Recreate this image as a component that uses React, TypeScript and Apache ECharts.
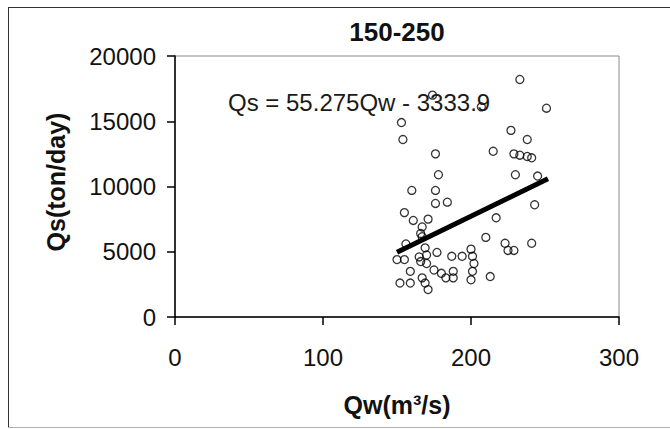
import React, { useEffect, useRef } from "react";
import * as echarts from "echarts";

// Scatter observations: discharge Qw (m3/s) and sediment load Qs (ton/day)
const qw: number[] = [
  174, 233, 251, 207, 153, 154, 227, 238, 176, 215,
  229, 233, 238, 241, 178, 230, 245, 160, 176, 176,
  184, 243, 155, 161, 171, 167, 217, 166, 210, 167,
  223, 225, 229, 241, 156, 150, 155, 169, 170, 166,
  170, 177, 165, 187, 194, 200, 201, 202, 201, 200,
  159, 175, 180, 183, 188, 188, 213, 152, 159, 167,
  169, 171,
];
const qs: number[] = [
  17000, 18200, 16000, 16100, 14900, 13600, 14300, 13600, 12500, 12700,
  12500, 12400, 12300, 12200, 10900, 10900, 10800, 9700, 9700, 8700,
  8800, 8600, 8000, 7400, 7500, 6900, 7600, 6400, 6100, 6150,
  5650, 5100, 5100, 5650, 5600, 4400, 4400, 5300, 4750, 4250,
  4100, 4950, 4600, 4650, 4650, 5200, 4650, 4100, 3500, 2850,
  3500, 3600, 3350, 3000, 3500, 3000, 3100, 2600, 2600, 3000,
  2600, 2100,
];

// Linear trend line
const slope = 55.275;
const intercept = -3333.9;
const trendRange: number[] = [150, 252];

const xTicks: number[] = [0, 100, 200, 300];
const yTicks: number[] = [0, 5000, 10000, 15000, 20000];

const titleText = "150-250";
const equationText = "Qs = 55.275Qw - 3333.9";
const xName = "Qw(m³/s)";
const yName = "Qs(ton/day)";

export default function App() {
  const ref = useRef<HTMLDivElement>(null);
  useEffect(() => {
    if (!ref.current) return;
    const chart = echarts.init(ref.current, undefined, { renderer: "svg" });
    const font = "'Liberation Sans', Arial, sans-serif";
    const scatterData = qw.map((x, i) => [x, qs[i]]);
    const trendData = trendRange.map((x) => [x, slope * x + intercept]);
    chart.setOption({
      animation: false,
      backgroundColor: "#ffffff",
      grid: {
        left: 175,
        top: 56,
        right: 51,
        bottom: 112,
        show: true,
        borderColor: "#8a8a8a",
        borderWidth: 1,
        backgroundColor: "transparent",
      },
      xAxis: {
        type: "value",
        min: xTicks[0],
        max: xTicks[xTicks.length - 1],
        interval: 100,
        axisLine: { show: true, onZero: false, lineStyle: { color: "#000", width: 1.5 } },
        axisTick: { show: true, inside: false, length: 8, lineStyle: { color: "#000", width: 1.5 } },
        splitLine: { show: false },
        axisLabel: { fontFamily: font, fontSize: 24, color: "#111", margin: 28, formatter: (v: number) => String(v) },
      },
      yAxis: {
        type: "value",
        min: yTicks[0],
        max: yTicks[yTicks.length - 1],
        interval: 5000,
        axisLine: { show: true, onZero: false, lineStyle: { color: "#000", width: 1.5 } },
        axisTick: { show: true, inside: false, length: 8, lineStyle: { color: "#000", width: 1.5 } },
        splitLine: { show: false },
        axisLabel: { fontFamily: font, fontSize: 24, color: "#111", margin: 19, formatter: (v: number) => String(v) },
      },
      series: [
        {
          type: "scatter",
          data: scatterData,
          symbol: "circle",
          symbolSize: 8,
          itemStyle: { color: "rgba(255,255,255,0)", borderColor: "#000", borderWidth: 1.3 },
          z: 2,
        },
        {
          type: "line",
          data: trendData,
          showSymbol: false,
          symbol: "none",
          lineStyle: { color: "#000", width: 5 },
          z: 3,
        },
      ],
      graphic: [
        { type: "line", shape: { x1: 8.5, y1: 7, x2: 8.5, y2: 428 }, style: { stroke: "#333", lineWidth: 1 } },
        { type: "line", shape: { x1: 8, y1: 7.5, x2: 670, y2: 7.5 }, style: { stroke: "#333", lineWidth: 1 } },
        { type: "line", shape: { x1: 8, y1: 427.5, x2: 670, y2: 427.5 }, style: { stroke: "#b0b0b0", lineWidth: 1 } },
        {
          type: "text",
          x: 397,
          y: 32,
          style: { text: titleText, fontFamily: font, fontSize: 26, fontWeight: "bold", fill: "#111", align: "center", verticalAlign: "middle" },
        },
        {
          type: "text",
          x: 228,
          y: 102,
          z: 10,
          style: { text: equationText, fontFamily: font, fontSize: 24, fill: "#1a1a1a", align: "left", verticalAlign: "middle" },
        },
        {
          type: "text",
          x: 397,
          y: 405,
          style: { text: xName, fontFamily: font, fontSize: 25, fontWeight: "bold", fill: "#111", align: "center", verticalAlign: "middle" },
        },
        {
          type: "text",
          x: 56,
          y: 182,
          rotation: Math.PI / 2,
          style: { text: yName, fontFamily: font, fontSize: 25, fontWeight: "bold", fill: "#111", align: "center", verticalAlign: "middle" },
        },
      ],
    });
    return () => chart.dispose();
  }, []);
  return (
    <div
      ref={ref}
      style={{ position: "fixed", left: 0, top: 0, width: 670, height: 429, background: "#fff" }}
    />
  );
}
